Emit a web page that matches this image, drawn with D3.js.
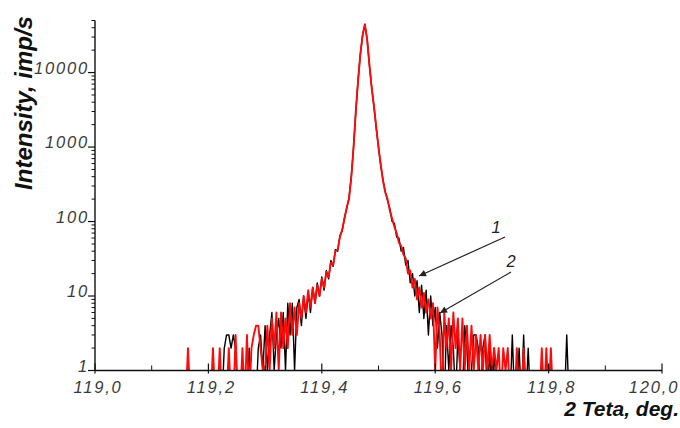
<!DOCTYPE html>
<html>
<head>
<meta charset="utf-8">
<script src="https://cdn.jsdelivr.net/npm/d3@7"></script>
<style>
  body { margin: 0; background: #fff; }
  svg { display: block; }
  .tick-label { font-family: "Liberation Sans", Arial, sans-serif; font-style: italic; font-size: 16.5px; letter-spacing: 1.8px; fill: #3a3a3a; }
  .title { font-family: "Liberation Sans", Arial, sans-serif; font-style: italic; font-weight: bold; fill: #111; }
</style>
</head>
<body>
<svg id="chart" width="680" height="428"></svg>
<script>
// scan positions, 2 Teta (deg.)
const theta = [
  119.160,119.164,119.168,119.172,119.176,119.180,119.184,119.188,119.192,119.196,
  119.200,119.204,119.208,119.212,119.216,119.220,119.224,119.228,119.232,119.236,
  119.240,119.244,119.248,119.252,119.256,119.260,119.264,119.268,119.272,119.276,
  119.280,119.284,119.288,119.292,119.296,119.300,119.304,119.308,119.312,119.316,
  119.320,119.324,119.328,119.332,119.336,119.340,119.344,119.348,119.352,119.356,
  119.360,119.364,119.368,119.372,119.376,119.380,119.384,119.388,119.392,119.396,
  119.400,119.404,119.408,119.412,119.416,119.420,119.424,119.428,119.432,119.436,
  119.440,119.444,119.448,119.452,119.456,119.460,119.464,119.468,119.472,119.476,
  119.480,119.484,119.488,119.492,119.496,119.500,119.504,119.508,119.512,119.516,
  119.520,119.524,119.528,119.532,119.536,119.540,119.544,119.548,119.552,119.556,
  119.560,119.564,119.568,119.572,119.576,119.580,119.584,119.588,119.592,119.596,
  119.600,119.604,119.608,119.612,119.616,119.620,119.624,119.628,119.632,119.636,
  119.640,119.644,119.648,119.652,119.656,119.660,119.664,119.668,119.672,119.676,
  119.680,119.684,119.688,119.692,119.696,119.700,119.704,119.708,119.712,119.716,
  119.720,119.724,119.728,119.732,119.736,119.740,119.744,119.748,119.752,119.756,
  119.760,119.764,119.768,119.772,119.776,119.780,119.784,119.788,119.792,119.796,
  119.800,119.804,119.808,119.812,119.816,119.820,119.824,119.828,119.832,119.836,
  119.840,119.844,119.848,119.852,119.856,119.860
];

// curve 1 (black), imp/s
const curve1 = [
  0,0,0,0,0,0,0,0,0,0,
  0,0,0,0,0,0,0,2,3,3,
  2,3,2,0,0,0,1,0,2,0,
  1,0,2,3,1,4,1,3,6,1,
  3,5,2,6,1,8,3,8,1,7,
  9,4,10,5,11,6,13,8,15,10,
  18,12,22,17,30,25,42,40,65,75,
  112,150,210,400,1000,3000,8000,17500,32000,44000,
  28000,12500,6300,3600,1800,1000,560,360,250,190,
  150,100,95,62,60,40,45,26,30,15,
  20,10,16,6,14,5,12,3,10,4,
  7,2,6,3,0,4,1,4,2,0,
  3,1,0,4,2,0,1,3,3,2,
  0,2,3,0,2,0,2,0,0,1,
  0,0,0,0,3,0,0,2,0,3,
  0,2,0,0,0,0,0,0,0,0,
  0,0,0,0,0,0,0,0,3,0,
  0,0,0,0,0,0
];

// curve 2 (red), imp/s
const curve2 = [
  0,2,0,0,0,0,0,0,0,0,
  0,0,2,0,0,2,0,0,0,2,
  0,0,3,0,0,2,0,3,0,2,
  3,4,4,2,1,1,4,1,5,2,
  6,1,6,2,5,2,8,3,7,3,
  8,5,10,6,12,7,13,8,14,10,
  17,13,21,18,28,26,40,42,62,78,
  110,155,200,390,980,3050,7800,17800,31500,44500,
  27500,12800,6200,3500,1850,980,580,350,245,200,
  140,110,85,70,52,47,36,32,20,22,
  13,17,9,13,7,11,6,9,5,8,
  1,7,3,0,6,2,5,1,6,2,
  5,1,5,1,4,1,4,1,3,1,
  3,1,3,1,3,1,2,1,2,0,
  2,1,2,0,0,0,2,0,0,2,
  0,0,0,0,0,0,0,2,0,2,
  0,2,0,0,0,0,0,0,0,0,
  0,0,0,0,0,0
];

const xMajor = [119.0, 119.2, 119.4, 119.6, 119.8, 120.0];
const xMinor = [119.1, 119.3, 119.5, 119.7, 119.9];
const yMajor = [1, 10, 100, 1000, 10000];

const svg = d3.select("#chart");
const x = d3.scaleLinear().domain([119.0, 120.0]).range([95, 662]);
const y = d3.scaleLog().domain([1, 50000]).range([370.5, 20.5]);

svg.append("defs").append("clipPath").attr("id", "plot-clip")
  .append("rect")
  .attr("x", x(119.0)).attr("y", 0)
  .attr("width", x(120.0) - x(119.0)).attr("height", y(1));

// zero counts drop below the axis and are clipped away
const yv = v => v > 0 ? y(v) : y(1) + 30;

const line = d3.line()
  .x(d => x(d[0]))
  .y(d => yv(d[1]));

const plot = svg.append("g").attr("clip-path", "url(#plot-clip)");
plot.append("path")
  .datum(theta.map((t, i) => [t, curve1[i]]))
  .attr("d", line)
  .attr("fill", "none")
  .attr("stroke", "#000")
  .attr("stroke-width", 1.4)
  .attr("stroke-linejoin", "round");
plot.append("path")
  .datum(theta.map((t, i) => [t, curve2[i]]))
  .attr("d", line)
  .attr("fill", "none")
  .attr("stroke", "#ff0a0a")
  .attr("stroke-width", 1.9)
  .attr("stroke-linejoin", "round");

// y axis (log), ticks outward
const yAxis = svg.append("g").attr("transform", `translate(${x(119.0)},0)`);
yAxis.append("line")
  .attr("x1", 0).attr("x2", 0).attr("y1", y(50000)).attr("y2", y(1))
  .attr("stroke", "#111").attr("stroke-width", 1.4);
yAxis.selectAll(".minor").data(y.ticks().filter(t => !yMajor.includes(t)))
  .enter().append("line")
  .attr("x1", -3.5).attr("x2", 0)
  .attr("y1", d => y(d)).attr("y2", d => y(d))
  .attr("stroke", "#111").attr("stroke-width", 1);
yAxis.selectAll(".major").data(yMajor)
  .enter().append("line")
  .attr("x1", -7).attr("x2", 0)
  .attr("y1", d => y(d)).attr("y2", d => y(d))
  .attr("stroke", "#111").attr("stroke-width", 1.2);
yAxis.selectAll("text").data(yMajor)
  .enter().append("text")
  .attr("class", "tick-label")
  .attr("x", -6).attr("y", d => y(d) + 1)
  .attr("text-anchor", "end")
  .text(d => d);

// x axis, ticks inward
const xAxis = svg.append("g").attr("transform", `translate(0,${y(1)})`);
xAxis.append("line")
  .attr("x1", x(119.0)).attr("x2", x(120.0))
  .attr("stroke", "#111").attr("stroke-width", 1.4);
xAxis.selectAll(".major").data(xMajor)
  .enter().append("line")
  .attr("x1", d => x(d)).attr("x2", d => x(d))
  .attr("y1", -7).attr("y2", 3)
  .attr("stroke", "#111").attr("stroke-width", 1.2);
xAxis.selectAll(".minor").data(xMinor)
  .enter().append("line")
  .attr("x1", d => x(d)).attr("x2", d => x(d))
  .attr("y1", -5).attr("y2", 0)
  .attr("stroke", "#111").attr("stroke-width", 1);
xAxis.selectAll("text").data(xMajor)
  .enter().append("text")
  .attr("class", "tick-label")
  .attr("x", (d, i) => i === xMajor.length - 1 ? x(d) - 8 : x(d) + 3)
  .attr("y", 22)
  .attr("text-anchor", "middle")
  .text(d => d.toFixed(1).replace(".", ","));

// axis titles
svg.append("text")
  .attr("class", "title")
  .attr("transform", "translate(32,103) rotate(-90)")
  .attr("text-anchor", "middle")
  .style("font-size", "24px")
  .text("Intensity, imp/s");
svg.append("text")
  .attr("class", "title")
  .attr("x", 679).attr("y", 416)
  .attr("text-anchor", "end")
  .style("font-size", "21px")
  .text("2 Teta, deg.");

// curve labels with arrows
svg.append("defs").append("marker")
  .attr("id", "head")
  .attr("viewBox", "0 0 10 10")
  .attr("refX", 10).attr("refY", 5)
  .attr("markerWidth", 11).attr("markerHeight", 7)
  .attr("markerUnits", "userSpaceOnUse")
  .attr("orient", "auto")
  .append("path").attr("d", "M0,0 L10,5 L0,10 Z").attr("fill", "#222");

const notes = [
  { label: "1", tx: 497, ty: 233, from: [505, 237], to: [419, 276] },
  { label: "2", tx: 512, ty: 267, from: [511, 272], to: [440, 313] }
];
notes.forEach(n => {
  svg.append("line")
    .attr("x1", n.from[0]).attr("y1", n.from[1])
    .attr("x2", n.to[0]).attr("y2", n.to[1])
    .attr("stroke", "#222").attr("stroke-width", 1.2)
    .attr("marker-end", "url(#head)");
  svg.append("text")
    .attr("class", "tick-label")
    .attr("x", n.tx).attr("y", n.ty)
    .attr("text-anchor", "middle")
    .style("fill", "#222")
    .text(n.label);
});
</script>
</body>
</html>
